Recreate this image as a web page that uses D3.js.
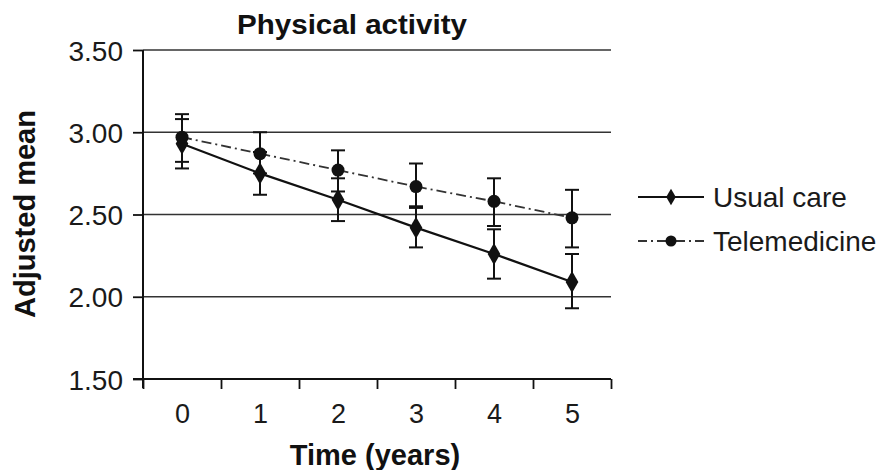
<!DOCTYPE html>
<html>
<head>
<meta charset="utf-8">
<script src="https://cdn.jsdelivr.net/npm/d3@7"></script>
<style>
  html, body { margin: 0; padding: 0; background: #fff; }
  svg { display: block; font-family: "Liberation Sans", Arial, Helvetica, sans-serif; }
</style>
</head>
<body>
<svg id="chart" width="891" height="470"></svg>
<script>
// Years of follow-up
const years = [0, 1, 2, 3, 4, 5];

// Usual care: adjusted mean with error-bar limits
const usualMean = [2.93, 2.75, 2.59, 2.42, 2.26, 2.09];
const usualLow  = [2.78, 2.62, 2.46, 2.30, 2.11, 1.93];
const usualHigh = [3.08, 2.88, 2.72, 2.54, 2.41, 2.26];

// Telemedicine: adjusted mean with error-bar limits
const teleMean = [2.97, 2.87, 2.77, 2.67, 2.58, 2.48];
const teleLow  = [2.82, 2.75, 2.64, 2.55, 2.43, 2.30];
const teleHigh = [3.11, 3.00, 2.89, 2.81, 2.72, 2.65];

const yTicks = [1.5, 2.0, 2.5, 3.0, 3.5];
const gridValues = [2.0, 2.5, 3.0, 3.5];

const svg = d3.select("#chart");
const plotLeft = 143, plotRight = 611, plotTop = 50, plotBottom = 379;

const x = d3.scaleLinear().domain([-0.5, 5.5]).range([plotLeft, plotRight]);
const y = d3.scaleLinear().domain([1.5, 3.5]).range([plotBottom, plotTop]);

// Horizontal reference lines
svg.append("g").selectAll("line").data(gridValues).join("line")
  .attr("x1", plotLeft).attr("x2", plotRight)
  .attr("y1", d => y(d)).attr("y2", d => y(d))
  .attr("stroke", "#333").attr("stroke-width", 1.6);

// Y axis
const yAxis = svg.append("g").attr("transform", `translate(${plotLeft},0)`)
  .call(d3.axisLeft(y).tickValues(yTicks).tickSize(10).tickSizeOuter(0)
    .tickFormat(d3.format(".2f")));
yAxis.select(".domain").attr("stroke", "#111").attr("stroke-width", 2)
  .attr("d", `M0,${plotTop}V${plotBottom + 9}`);
yAxis.selectAll(".tick line").attr("stroke", "#111").attr("stroke-width", 1.8);
yAxis.selectAll(".tick text").attr("font-size", 28).attr("fill", "#1a1a1a")
  .attr("x", -20).attr("dy", "0.36em").attr("font-family", "Liberation Sans, Arial, sans-serif");

// X axis: ticks between years, labels centred on each year
const boundaries = d3.range(-0.5, 5.51, 1);
const xAxis = svg.append("g").attr("transform", `translate(0,${plotBottom})`)
  .call(d3.axisBottom(x).tickValues(boundaries).tickSize(10).tickSizeOuter(0).tickFormat(""));
xAxis.select(".domain").attr("stroke", "#111").attr("stroke-width", 2)
  .attr("d", `M${plotLeft - 10},0H${plotRight}`);
xAxis.selectAll(".tick line").attr("stroke", "#111").attr("stroke-width", 1.8);

const xLabels = svg.append("g").attr("transform", `translate(0,${plotBottom})`)
  .call(d3.axisBottom(x).tickValues(years).tickSize(0).tickFormat(d3.format("d")));
xLabels.select(".domain").remove();
xLabels.selectAll(".tick text").attr("font-size", 27).attr("fill", "#1a1a1a")
  .attr("y", 44).attr("dy", 0).attr("font-family", "Liberation Sans, Arial, sans-serif");

// Error bars
function errorBars(low, high, cls) {
  const g = svg.append("g").attr("class", cls);
  const rows = years.map((t, i) => ({ t, lo: low[i], hi: high[i] }));
  g.selectAll("line.v").data(rows).join("line").attr("class", "v")
    .attr("x1", d => x(d.t)).attr("x2", d => x(d.t))
    .attr("y1", d => y(d.lo)).attr("y2", d => y(d.hi))
    .attr("stroke", "#111").attr("stroke-width", 2);
  ["lo", "hi"].forEach(k => {
    g.selectAll("line.c" + k).data(rows).join("line").attr("class", "c" + k)
      .attr("x1", d => x(d.t) - 7).attr("x2", d => x(d.t) + 7)
      .attr("y1", d => y(d[k])).attr("y2", d => y(d[k]))
      .attr("stroke", "#111").attr("stroke-width", 2);
  });
}
errorBars(usualLow, usualHigh, "err-usual");
errorBars(teleLow, teleHigh, "err-tele");

// Series lines
const line = d3.line().x((d, i) => x(years[i])).y(d => y(d));
svg.append("path").datum(teleMean).attr("d", line)
  .attr("fill", "none").attr("stroke", "#333").attr("stroke-width", 1.8)
  .attr("stroke-dasharray", "10,4,2,4");
svg.append("path").datum(usualMean).attr("d", line)
  .attr("fill", "none").attr("stroke", "#111").attr("stroke-width", 2.2);

// Markers
const diamond = d3.symbol().type(d3.symbolDiamond).size(140);
svg.append("g").selectAll("path").data(usualMean).join("path")
  .attr("d", diamond)
  .attr("transform", (d, i) => `translate(${x(years[i])},${y(d)})`)
  .attr("fill", "#111");
svg.append("g").selectAll("circle").data(teleMean).join("circle")
  .attr("cx", (d, i) => x(years[i])).attr("cy", d => y(d)).attr("r", 6.5)
  .attr("fill", "#111");

// Legend
const legend = svg.append("g");
const legY = [197, 241];
legend.append("line").attr("x1", 638).attr("x2", 704).attr("y1", legY[0]).attr("y2", legY[0])
  .attr("stroke", "#111").attr("stroke-width", 2);
legend.append("path").attr("d", d3.symbol().type(d3.symbolDiamond).size(80))
  .attr("transform", `translate(671,${legY[0]})`).attr("fill", "#111");
legend.append("line").attr("x1", 638).attr("x2", 704).attr("y1", legY[1]).attr("y2", legY[1])
  .attr("stroke", "#333").attr("stroke-width", 1.8).attr("stroke-dasharray", "9,4,2,4");
legend.append("circle").attr("cx", 671).attr("cy", legY[1]).attr("r", 5.5).attr("fill", "#111");
legend.append("text").attr("x", 713).attr("y", legY[0] + 10).attr("font-size", 28)
  .attr("fill", "#1a1a1a").text("Usual care");
legend.append("text").attr("x", 713).attr("y", legY[1] + 10).attr("font-size", 28)
  .attr("fill", "#1a1a1a").text("Telemedicine");

// Titles
svg.append("text").attr("x", 352).attr("y", 34).attr("text-anchor", "middle")
  .attr("font-size", 28).attr("font-weight", "bold").attr("fill", "#111")
  .attr("textLength", 230).attr("lengthAdjust", "spacingAndGlyphs")
  .text("Physical activity");
svg.append("text").attr("x", 375).attr("y", 465).attr("text-anchor", "middle")
  .attr("font-size", 29).attr("font-weight", "bold").attr("fill", "#111")
  .text("Time (years)");
svg.append("text").attr("transform", "translate(35,214) rotate(-90)")
  .attr("text-anchor", "middle")
  .attr("font-size", 29).attr("font-weight", "bold").attr("fill", "#111")
  .text("Adjusted mean");
</script>
</body>
</html>
